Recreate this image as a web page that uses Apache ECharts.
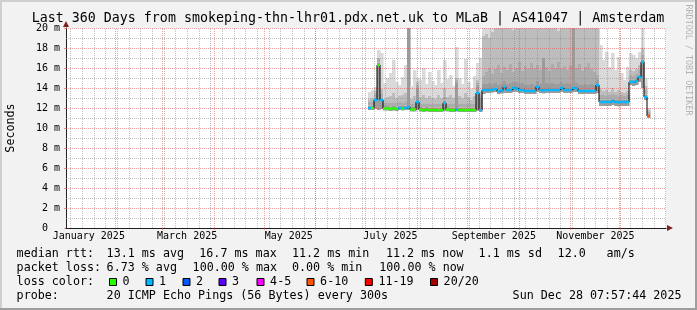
<!DOCTYPE html>
<html><head><meta charset="utf-8">
<script src="https://cdn.jsdelivr.net/npm/echarts@6/dist/echarts.min.js"></script>
<style>html,body{margin:0;padding:0;background:#f2f2f2}#c{width:697px;height:310px}</style>
</head><body><div id="c"></div>
<script>
// ---------------- DATA ----------------
const titleText = 'Last 360 Days from smokeping-thn-lhr01.pdx.net.uk to MLaB | AS41047 | Amsterdam';
const rangeStart = '2025-01-02T07:57:44Z';
const rangeEnd = '2025-12-28T07:57:44Z';
const dataStart = '2025-07-02T12:46:00Z';
const binDays = 1.8;

const monthStarts = ['2025-02-01','2025-03-01','2025-04-01','2025-05-01','2025-06-01','2025-07-01','2025-08-01','2025-09-01','2025-10-01','2025-11-01','2025-12-01'];
const xLabelDates = ['2025-01-16','2025-03-16','2025-05-16','2025-07-16','2025-09-16','2025-11-16'];
const xLabels = ['January 2025','March 2025','May 2025','July 2025','September 2025','November 2025'];
const firstWeekLine = '2025-01-05';
const yTicks = [0,2,4,6,8,10,12,14,16,18,20];
const yLabels = ['0','2 m','4 m','6 m','8 m','10 m','12 m','14 m','16 m','18 m','20 m'];

// median rtt (ms) per bin
const median = [
 12.0,12.0,12.8,16.3,12.8,11.95,11.95,11.9,11.95,11.9,
 12.0,11.95,12.0,12.1,11.85,11.85,12.6,11.85,11.8,11.85,
 11.8,11.8,11.8,11.8,11.8,12.5,11.85,11.8,11.8,11.85,
 11.8,11.8,11.8,11.8,11.8,11.8,13.5,11.8,13.8,13.8,
 13.8,13.85,13.9,13.65,13.75,14.1,13.8,13.8,14.0,13.95,
 13.8,13.8,13.7,13.7,13.7,13.7,14.1,13.8,13.75,13.8,
 13.8,13.8,13.8,13.8,14.0,13.8,13.8,13.8,14.0,13.95,
 13.7,13.7,13.7,13.7,13.7,13.7,14.3,12.6,12.6,12.6,
 12.6,12.7,12.6,12.55,12.6,12.6,12.6,14.6,14.6,14.7,
 15.1,16.6,13.1,11.2];
// lost pings (of 20) per bin
const lostPings = [
 1,0,1,0,1,0,0,0,0,0,
 1,0,1,1,0,0,1,0,0,0,
 0,0,0,0,0,1,0,0,0,1,
 0,0,0,0,0,0,1,1,1,1,
 1,1,1,1,1,1,1,1,1,1,
 1,1,1,1,1,1,1,1,1,1,
 1,1,1,1,1,1,1,1,1,1,
 1,1,1,1,1,1,1,1,1,1,
 1,1,1,1,1,1,1,1,1,1,
 1,1,1,8];
// smoke levels (ms) per bin: bottom, then band tops
const smokeLo = [
 11.8,11.8,11.9,11.8,11.9,11.75,11.75,11.7,11.75,11.7,
 11.8,11.75,11.8,11.8,11.65,11.65,11.8,11.65,11.6,11.65,
 11.6,11.6,11.6,11.6,11.6,11.7,11.65,11.6,11.6,11.65,
 11.6,11.6,11.6,11.6,11.6,11.6,11.7,11.6,13.4,13.5,
 13.5,13.55,13.6,13.4,13.45,13.5,13.5,13.5,13.6,13.6,
 13.5,13.5,13.4,13.4,13.4,13.4,13.6,13.5,13.45,13.5,
 13.5,13.5,13.5,13.5,13.6,13.5,13.5,13.5,13.6,13.6,
 13.4,13.4,13.4,13.4,13.4,13.4,13.5,12.2,12.2,12.2,
 12.2,12.3,12.2,12.15,12.2,12.2,12.2,14.3,14.2,14.3,
 14.6,14.0,12.8,11.0];
const smoke1 = [
 12.25,12.25,13.05,16.55,13.05,12.2,12.2,12.15,12.2,12.15,
 12.25,12.2,12.25,20.5,12.1,12.1,14.0,12.1,12.05,12.1,
 12.05,12.05,12.05,12.05,12.05,12.75,12.1,12.05,12.05,14.5,
 12.05,12.05,12.05,12.05,12.05,12.05,14.2,13.0,14.4,14.4,
 14.5,14.4,14.5,14.3,14.4,14.7,14.4,14.5,14.6,14.6,
 14.4,14.5,14.3,14.3,14.4,14.3,14.7,14.4,17.0,14.5,
 14.4,14.5,14.4,14.4,14.6,14.4,14.5,14.4,20.5,14.5,
 14.3,14.3,14.4,14.3,14.4,14.3,14.8,12.85,12.85,12.85,
 12.85,12.95,12.85,12.8,12.85,12.85,12.85,14.85,14.85,14.95,
 15.35,16.85,13.35,11.4];
const smoke2 = [
 12.6,12.6,13.4,16.9,13.4,12.5,12.5,12.5,12.5,12.5,
 12.6,12.5,12.6,20.5,12.4,12.4,14.3,12.4,12.4,12.4,
 12.4,12.4,12.4,12.4,12.4,13.1,12.4,12.4,12.4,14.8,
 12.4,12.4,12.4,12.4,12.4,12.4,14.5,13.3,15.2,15.6,
 16.0,15.4,15.9,16.3,15.5,16.1,15.8,16.4,15.6,16.0,
 16.6,15.7,16.2,15.9,16.5,16.0,16.3,15.8,17.0,16.1,
 15.7,16.4,16.0,16.6,15.9,16.2,15.8,16.3,20.5,16.0,
 16.4,15.7,16.1,16.5,15.9,15.6,15.3,13.3,13.3,13.2,
 13.3,13.4,13.3,13.2,13.3,13.2,13.3,15.3,15.2,15.4,
 15.8,17.3,13.8,11.6];
const smoke3 = [
 12.9,13.0,13.7,17.0,13.9,12.9,13.1,13.2,13.5,13.0,
 13.2,13.3,13.5,20.5,12.9,13.2,14.6,13.1,13.3,13.0,
 13.2,13.0,12.9,13.3,13.0,14.0,13.1,13.3,13.0,15.0,
 13.2,13.0,13.5,13.1,12.8,13.2,14.8,13.6,19.2,19.4,
 19.0,19.6,21,21,20.0,21,21,21,19.8,21,
 21,21,21,21,21,21,19.9,21,21,21,
 21,21,21,19.7,21,21,21,21,21,21,
 21,21,21,21,21,21,21,13.9,13.7,13.8,
 13.6,14.0,13.6,13.8,13.6,13.5,13.7,15.8,15.7,15.9,
 16.3,18.0,14.2,11.8];
const smokeMax = [
 13.6,13.8,14.1,17.8,17.5,14.5,15.0,15.5,16.8,14.6,
 14.3,15.1,16.3,20.5,14.2,15.8,15.0,14.8,16.0,14.4,
 15.6,14.7,14.3,15.8,14.5,16.8,14.9,15.3,14.2,18.1,
 15.0,14.4,16.9,14.6,13.9,15.2,16.5,17.0,21,21,
 21,21,21,21,21,21,21,21,21,21,
 21,21,21,21,21,21,21,21,21,21,
 21,21,21,21,21,21,21,21,21,21,
 21,21,21,21,21,21,21,18.3,16.8,17.6,
 16.1,17.5,15.8,17.1,15.5,14.8,16.1,17.5,17.3,17.0,
 17.6,20.5,15.0,12.0];

const lossLabels = ['0','1','2','3','4-5','6-10','11-19','20/20'];
const lossUpper = [0,1,2,3,5,10,19,20];
const lossColors = ['#26ff00','#00b8ff','#0059ff','#5e00ff','#ff00ff','#ff5500','#ff0000','#a10000'];

const statsRtt = ['median rtt:','13.1 ms avg','16.7 ms max','11.2 ms min','11.2 ms now','1.1 ms sd','12.0','am/s'];
const statsLoss = ['packet loss:','6.73 % avg','100.00 % max','0.00 % min','100.00 % now'];
const lossTitle = 'loss color:';
const probeRow = ['probe:','20 ICMP Echo Pings (56 Bytes) every 300s','Sun Dec 28 07:57:44 2025'];
const yName = 'Seconds';
const watermark = 'RRDTOOL / TOBI OETIKER';

// ---------------- LAYOUT / STYLE ----------------
const MONO = '"DejaVu Sans Mono", monospace';
const DAY = 86400000;
const T = s => Date.parse(s.length === 10 ? s + 'T00:00:00Z' : s);
const t0 = T(rangeStart), t1 = T(rangeEnd);
const binStart = T(dataStart), binStep = binDays * DAY;
const times = median.map((_, i) => binStart + i * binStep);
const tEnd = binStart + median.length * binStep;

function stepData(arr) {
  const d = arr.map((v, i) => [times[i], v]);
  d.push([tEnd, arr[arr.length - 1]]);
  return d;
}
function lossIndex(n) { for (let k = 0; k < lossUpper.length; k++) if (n <= lossUpper[k]) return k; return 7; }

const smokeColors = ['#9c9c9c', '#acacac', '#bdbdbd', '#dadada'];
const smokeData = median.map((_, i) => [times[i], times[i] + binStep, smokeLo[i], smoke1[i], smoke2[i], smoke3[i], smokeMax[i]]);

const MINOR = 'rgba(140,140,140,0.55)';
const MAJOR = 'rgba(222,79,79,0.55)';
const gridLines = [];
for (let w = T(firstWeekLine); w < t1; w += 7 * DAY) gridLines.push({ xAxis: w, lineStyle: { color: MINOR, type: [1, 1], width: 1 } });
for (let v = 1; v < 20; v += 2) gridLines.push({ yAxis: v, lineStyle: { color: MINOR, type: [1, 1], width: 1 } });
monthStarts.forEach(m => gridLines.push({ xAxis: T(m), lineStyle: { color: MAJOR, type: [1, 1], width: 1 } }));
for (let v = 2; v <= 20; v += 2) gridLines.push({ yAxis: v, lineStyle: { color: MAJOR, type: [1, 1], width: 1 } });

const labelTimes = xLabelDates.map(T);

const txt = (x, y, text, size, extra) => ({ type: 'text', x, y, silent: true, style: Object.assign({ text, font: size + 'px ' + MONO, fill: '#000', align: 'left', verticalAlign: 'middle' }, extra || {}) });

const graphics = [
  { type: 'rect', shape: { x: 0, y: 0, width: 697, height: 2 }, style: { fill: '#cfcfcf' }, silent: true },
  { type: 'rect', shape: { x: 0, y: 0, width: 2, height: 310 }, style: { fill: '#cfcfcf' }, silent: true },
  { type: 'rect', shape: { x: 0, y: 308, width: 697, height: 2 }, style: { fill: '#9e9e9e' }, silent: true },
  { type: 'rect', shape: { x: 695, y: 0, width: 2, height: 310 }, style: { fill: '#9e9e9e' }, silent: true },
  txt(348, 18.5, titleText, 13.3, { align: 'center' }),
  Object.assign(txt(688, 60, watermark, 8.4, { align: 'center', fill: '#b4b4b4' }), { rotation: -Math.PI / 2 }),
  { type: 'polygon', shape: { points: [[63, 27], [69, 27], [66, 21]] }, style: { fill: '#801f1f' }, silent: true },
  { type: 'polygon', shape: { points: [[667, 225], [667, 231], [673, 228]] }, style: { fill: '#801f1f' }, silent: true }
];
const rttX = [16.6, 106.6, 199.3, 292, 386, 478.6, 557.6, 606.6];
statsRtt.forEach((s, i) => graphics.push(txt(rttX[i], 254, s, 11.7)));
const lossX = [16.6, 106.6, 192.6, 292, 379.3];
statsLoss.forEach((s, i) => graphics.push(txt(lossX[i], 268, s, 11.7)));
graphics.push(txt(16.6, 282, lossTitle, 11.7));
const boxX = [109, 145.5, 182.5, 218.5, 256.5, 306.5, 364.8, 430];
lossLabels.forEach((l, i) => {
  graphics.push({ type: 'rect', shape: { x: boxX[i] + 0.5, y: 278.5, width: 7, height: 7 }, style: { fill: lossColors[i], stroke: '#000', lineWidth: 1 }, silent: true });
  graphics.push(txt(boxX[i] + 13.6, 282, l, 11.7));
});
const probeX = [16.6, 106.6, 512.6];
probeRow.forEach((s, i) => graphics.push(txt(probeX[i], 296, s, 11.7)));

const chart = echarts.init(document.getElementById('c'), null, { renderer: 'canvas' });
chart.setOption({
  animation: false,
  backgroundColor: '#f2f2f2',
  grid: { left: 66, right: 31, top: 28, bottom: 82, show: true, backgroundColor: '#ffffff', borderWidth: 0, containLabel: false, outerBoundsMode: 'none' },
  xAxis: {
    type: 'value', min: t0, max: t1,
    splitLine: { show: false },
    axisLine: { show: true, onZero: false, lineStyle: { color: '#1f1f1f', width: 1 } },
    axisTick: { show: true, customValues: monthStarts.map(T), length: 2, lineStyle: { color: MAJOR } },
    axisLabel: {
      customValues: labelTimes, margin: 3, fontFamily: MONO, fontSize: 10, color: '#000',
      formatter: v => { const k = labelTimes.indexOf(v); return k >= 0 ? xLabels[k] : ''; }
    }
  },
  yAxis: {
    type: 'value', min: 0, max: 20, interval: 2,
    splitLine: { show: false },
    axisLine: { show: true, lineStyle: { color: '#1f1f1f', width: 1 } },
    axisTick: { show: true, length: 2, lineStyle: { color: MAJOR } },
    axisLabel: {
      margin: 6, fontFamily: MONO, fontSize: 10, color: '#000',
      formatter: v => { const k = yTicks.indexOf(v); const s = k >= 0 ? yLabels[k] : ''; return v === 0 ? '{z|' + s + '}' : s; },
      rich: { z: { fontFamily: MONO, fontSize: 10, color: '#000', padding: [0, 12, 0, 0] } }
    },
    name: yName, nameLocation: 'middle', nameRotate: 90, nameGap: 49,
    nameTextStyle: { fontFamily: MONO, fontSize: 11.7, color: '#000' }
  },
  series: [
    { type: 'custom', name: 'smoke', z: 2, silent: true, clip: true,
      data: smokeData,
      encode: { x: [0, 1], y: [2, 6] },
      renderItem: (params, api) => {
        const xa = api.coord([api.value(0), 0])[0];
        const xb = api.coord([api.value(1), 0])[0];
        const children = [];
        for (let k = 0; k < 4; k++) {
          const lo = Math.min(api.value(2 + k), 20.5), hi = Math.min(api.value(3 + k), 20.5);
          if (hi <= lo) continue;
          const ya = api.coord([0, hi])[1], yb = api.coord([0, lo])[1];
          children.push({ type: 'rect', shape: { x: xa, y: ya, width: xb - xa + 0.6, height: yb - ya }, style: { fill: smokeColors[k] } });
        }
        return { type: 'group', children };
      } },
    { type: 'line', name: 'grid', data: [], z: 3, silent: true,
      markLine: { silent: true, symbol: ['none', 'none'], label: { show: false }, z: 3, animation: false, data: gridLines } },
    { type: 'line', name: 'median', step: 'end', data: stepData(median), showSymbol: false, symbol: 'none', silent: true,
      lineStyle: { color: '#000', width: 1 }, z: 10 },
    { type: 'custom', name: 'loss', z: 11, silent: true,
      data: median.map((v, i) => [times[i], times[i] + binStep, v, lossIndex(lostPings[i])]),
      encode: { x: [0, 1], y: 2 },
      renderItem: (params, api) => {
        const a = api.coord([api.value(0), api.value(2)]);
        const b = api.coord([api.value(1), api.value(2)]);
        return { type: 'rect', shape: { x: a[0], y: a[1] - 1.2, width: b[0] - a[0], height: 2.4 }, style: { fill: lossColors[api.value(3)] } };
      } }
  ],
  graphic: { elements: graphics }
});
</script></body></html>
